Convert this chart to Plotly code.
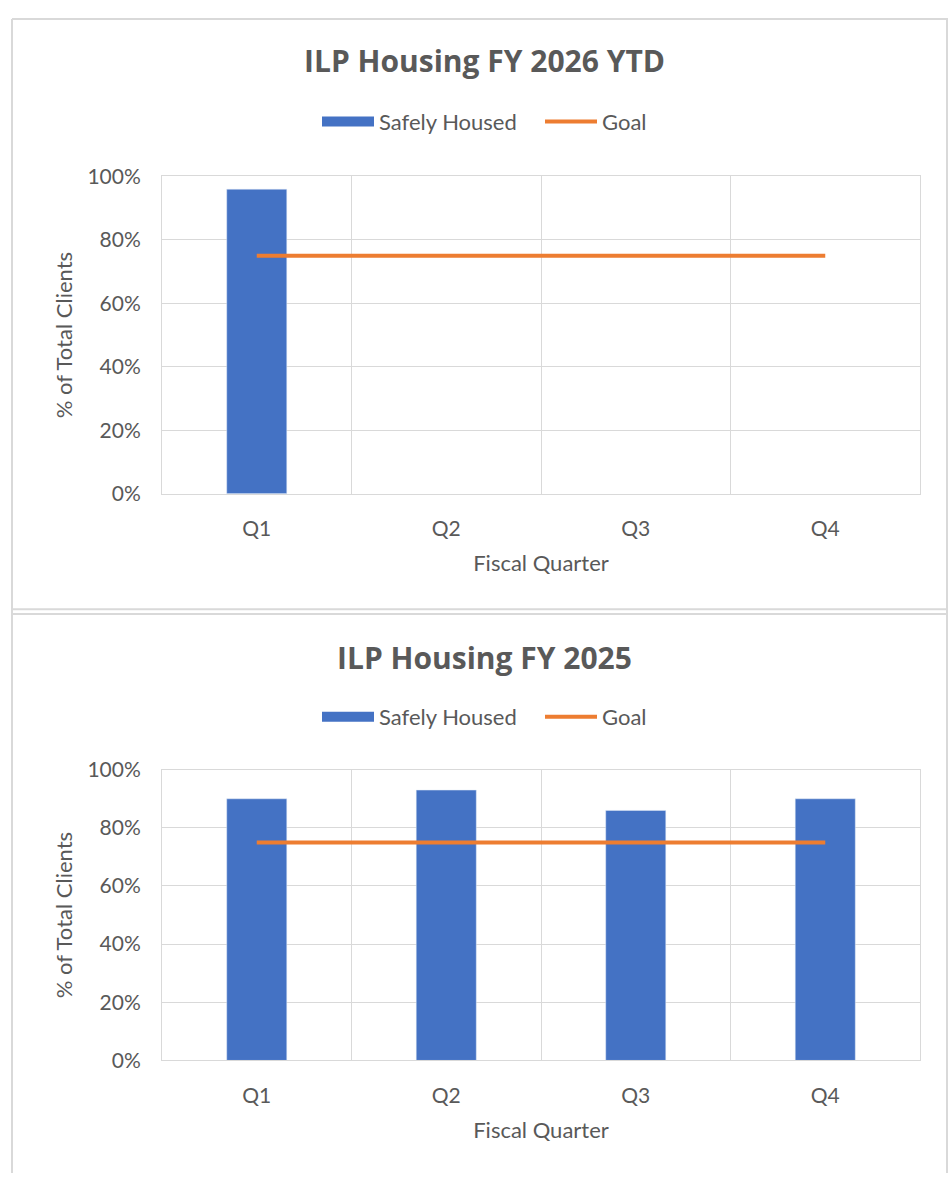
import plotly.graph_objects as go

# chart data
quarters = ["Q1", "Q2", "Q3", "Q4"]
housed_fy2026 = [0.96, None, None, None]
housed_fy2025 = [0.90, 0.93, 0.86, 0.90]
goal = [0.75, 0.75, 0.75, 0.75]

BLUE = "#4472C4"
ORANGE = "#ED7D31"
GRID = "#D9D9D9"
TXT = "#595959"
FONT = "Lato"

W, H = 948, 1184


def px_x(v):
    return v / W


def px_y(v):
    return 1 - v / H


fig = go.Figure()

charts = [
    # (values, title, xaxis, yaxis, legend, plot top px, plot bottom px, title y, legend y)
    (housed_fy2026, "ILP Housing FY 2026 YTD", "x", "y", "legend", 166, 490, 48, 110),
    (housed_fy2025, "ILP Housing FY 2025", "x2", "y2", "legend2", 772, 1069, 657, 718),
]

annotations = []
for vals, title, xa, ya, lg, top, bottom, title_y, leg_y in charts:
    fig.add_trace(go.Bar(x=quarters, y=vals, marker_color=BLUE, xaxis=xa, yaxis=ya,
                         name="Safely Housed", showlegend=False, legend=lg))
    # legend proxy for the wide bar swatch
    fig.add_trace(go.Scatter(x=[None], y=[None], mode="lines", name="Safely Housed",
                             line=dict(color=BLUE, width=10), xaxis=xa, yaxis=ya, legend=lg))
    fig.add_trace(go.Scatter(x=quarters, y=goal, mode="lines", name="Goal",
                             line=dict(color=ORANGE, width=4), xaxis=xa, yaxis=ya, legend=lg))
    annotations.append(dict(text="<b>" + title + "</b>", x=px_x(484), y=px_y(title_y),
                            xref="paper", yref="paper", showarrow=False,
                            xanchor="center", yanchor="middle",
                            font=dict(family="Open Sans", size=30, color=TXT)))

axis_common = dict(showgrid=True, gridcolor=GRID, gridwidth=1, showline=True,
                   linecolor=GRID, mirror=True, zeroline=False, ticks="",
                   tickfont=dict(family=FONT, size=21, color=TXT), ticklabelstandoff=16)

layout = dict(
    width=W, height=H, autosize=False,
    margin=dict(l=0, r=0, t=0, b=0),
    paper_bgcolor="white", plot_bgcolor="white",
    bargap=0.683,
    annotations=annotations,
    font=dict(family=FONT, color=TXT),
)

for i, (vals, title, xa, ya, lg, top, bottom, title_y, leg_y) in enumerate(charts):
    sfx = "" if i == 0 else str(i + 1)
    layout["xaxis" + sfx] = dict(
        axis_common, domain=[px_x(162), px_x(920)], anchor=ya, type="category",
        tickson="boundaries", range=[-0.5, 3.5],
        title=dict(text="Fiscal Quarter", standoff=16,
                   font=dict(family=FONT, size=22, color=TXT)))
    layout["yaxis" + sfx] = dict(
        axis_common, domain=[px_y(bottom), px_y(top)], anchor=xa, range=[0, 1],
        dtick=0.2, tickformat=".0%",
        title=dict(text="% of Total Clients", standoff=8,
                   font=dict(family=FONT, size=22, color=TXT)))
    layout[lg] = dict(orientation="h", x=px_x(317), y=px_y(leg_y), xanchor="left",
                      yanchor="middle", itemwidth=52, entrywidth=156,
                      bgcolor="rgba(0,0,0,0)",
                      font=dict(family=FONT, size=22, color=TXT))

fig.update_layout(**layout)

# chart frames
frame = dict(type="line", xref="paper", yref="paper", line=dict(color="#D9D9D9", width=2))
fig.add_shape(frame, x0=px_x(12), x1=px_x(12), y0=px_y(5), y1=0)
fig.add_shape(frame, x0=px_x(12), x1=1, y0=px_y(5), y1=px_y(5))
fig.add_shape(frame, x0=px_x(947), x1=px_x(947), y0=px_y(5), y1=0)
fig.add_shape(frame, x0=px_x(12), x1=1, y0=px_y(608), y1=px_y(608))
fig.add_shape(frame, x0=px_x(12), x1=1, y0=px_y(613), y1=px_y(613))

pin = ("var d=document.getElementById('{plot_id}');"
       "d.style.position='fixed';d.style.top='0';d.style.left='0';"
       "document.body.style.margin='0';document.body.style.overflow='hidden';")
fig.write_html("out.html", config={"displayModeBar": False}, post_script=pin)
